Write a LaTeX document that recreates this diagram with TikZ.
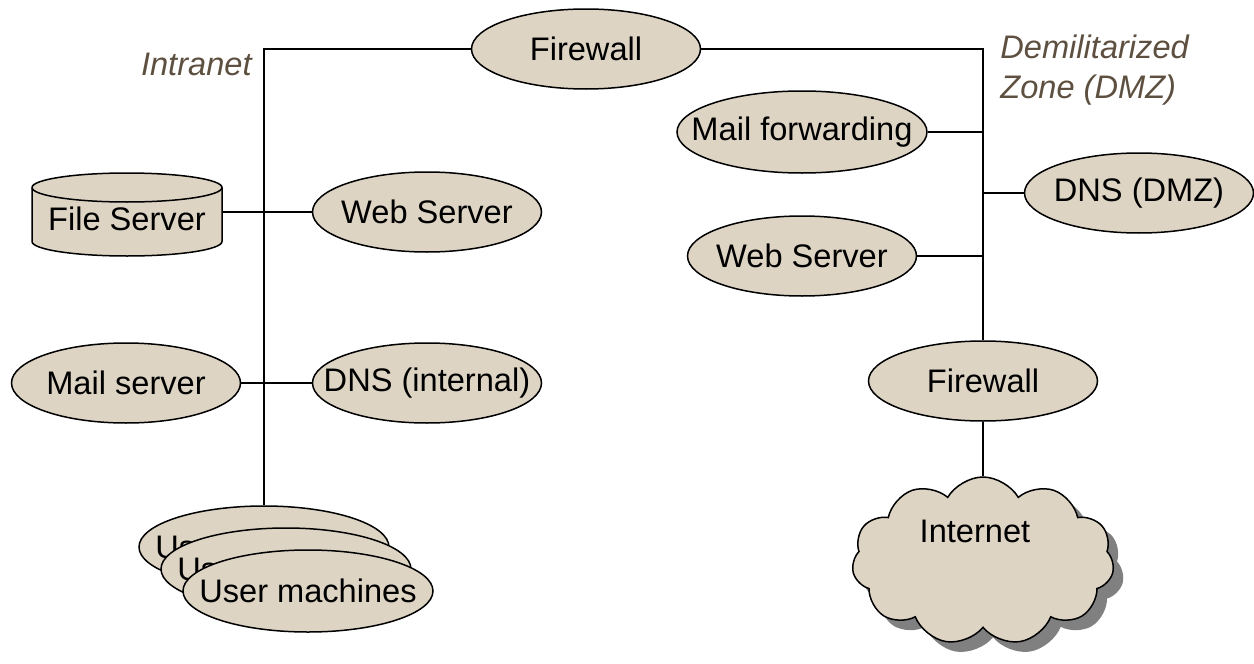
\documentclass[tikz,border=0pt]{standalone}
\usepackage{fontspec}
\setmainfont{Liberation Sans}
\usetikzlibrary{shapes.geometric,shapes.symbols,shadows,positioning}
\definecolor{hostfill}{RGB}{221,212,196}
\definecolor{zonetext}{RGB}{94,80,64}
\newcommand{\srvtext}[1]{\makebox[0pt]{#1}}

\begin{document}
\fontsize{16.3}{20}\selectfont
\begin{tikzpicture}[x=0.5pt,y=-0.5pt,
  host/.style={ellipse,draw=black,fill=hostfill,line width=0.75pt,inner sep=0pt,
    minimum width=114.5pt,minimum height=40pt},
  wide/.style={host,minimum width=125pt,minimum height=41pt},
  store/.style={draw=black,fill=hostfill,line width=0.75pt},
  zone/.style={font=\itshape,text=zonetext,inner sep=0pt},
  link/.style={draw=black,line width=0.75pt}]
\useasboundingbox (0,0) rectangle (1254,664);

\node[host](fw1) at (586,49){\srvtext{Firewall}};
\node[wide](mailfw) at (802,132){\srvtext{Mail forwarding}};
\node[host](dnsdmz) at (1139,193){\srvtext{DNS (DMZ)}};
\node[host](webdmz) at (802,256){\srvtext{Web Server}};
\node[host](fw2) at (983,381){\srvtext{Firewall}};

\path[store] (32,187.5) -- (32,241.5)
  arc[start angle=180,end angle=360,x radius=47.5pt,y radius=7.25pt] -- (222,187.5)
  arc[start angle=0,end angle=180,x radius=47.5pt,y radius=7.25pt] -- cycle;
\draw[store,fill=none] (32,187.5) arc[start angle=180,end angle=360,x radius=47.5pt,y radius=7.25pt];
\node[inner sep=0pt,minimum width=95pt](filesrv) at (127,219){File Server};
\node[host](webin) at (427,212){\srvtext{Web Server}};
\node[host](mailsrv) at (126,383){\srvtext{Mail server}};
\node[host](dnsin) at (427,383){\srvtext{DNS (internal)}};

\node[wide](user1) at (264,547){\srvtext{User machines}};
\node[wide,below right=11pt and 11pt of user1.center,anchor=center](user2){\srvtext{User machines}};
\node[wide,below right=11pt and 11pt of user2.center,anchor=center](user3){\srvtext{User machines}};

\node[cloud,cloud puffs=11,cloud puff arc=120,cloud ignores aspect,draw=black,fill=hostfill,
  line width=0.75pt,minimum width=131pt,minimum height=84pt,
  drop shadow={shadow xshift=5pt,shadow yshift=-5pt,fill=gray,opacity=1}](net) at (983,561){};
\node(netlabel) at (975,531){Internet};

\node[zone,anchor=east](intranet) at (252,64){Intranet};
\node[zone,anchor=west,align=left](dmz) at (1000,70){Demilitarized\\Zone (DMZ)};

\draw[link] (fw1) -| (user1);
\draw[link] (fw1) -| (fw2);
\draw[link] (mailfw) -- (mailfw -| fw2);
\draw[link] (dnsdmz) -- (dnsdmz -| fw2);
\draw[link] (webdmz) -- (webdmz -| fw2);
\draw[link] (fw2) -- (net);
\draw[link] (webin) -- (webin -| filesrv.east);
\draw[link] (mailsrv) -- (dnsin);
\end{tikzpicture}
\end{document}
